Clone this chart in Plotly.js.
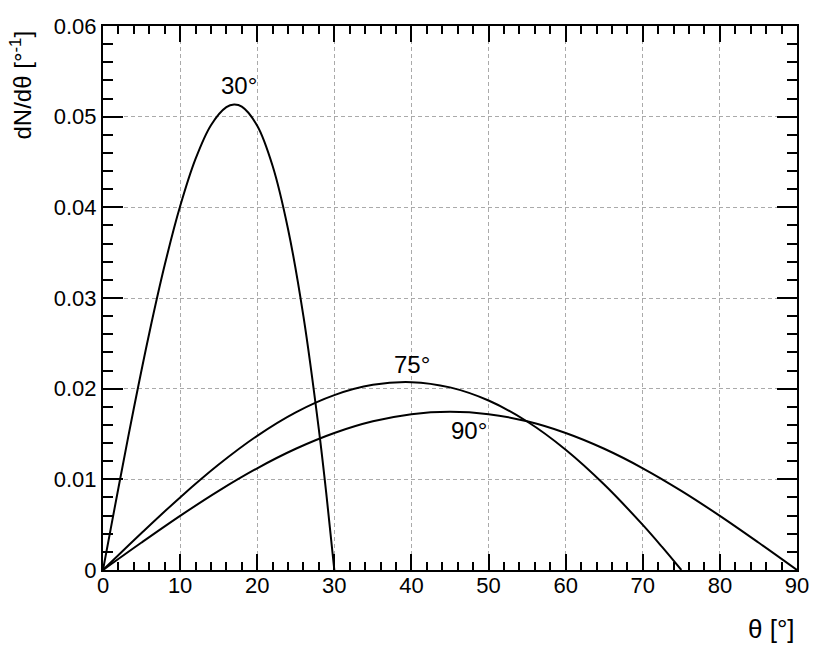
<!DOCTYPE html>
<html>
<head>
<meta charset="utf-8">
<script src="https://cdn.plot.ly/plotly-3.0.1.min.js"></script>
<style>html,body{margin:0;padding:0;background:#fff;}</style>
</head>
<body>
<div id="chart" style="width:830px;height:650px;"></div>
<script>
// Curve for 30°
const theta30 = [0, 1, 2, 4, 6, 8, 10, 12, 14, 16, 17, 18, 20, 22, 24, 26, 28, 29, 30];
const dN30 = [0, 0.00454, 0.00905, 0.01784, 0.02612, 0.03363, 0.04011, 0.04534, 0.04906, 0.05105, 0.05133, 0.05110, 0.04900, 0.04456, 0.03759, 0.02794, 0.01545, 0.00810, 0];
// Curve for 75°
const theta75 = [0, 5, 10, 15, 20, 25, 30, 35, 40, 45, 50, 55, 60, 65, 70, 72.5, 75];
const dN75 = [0, 0.00408, 0.00801, 0.01163, 0.01480, 0.01739, 0.01929, 0.02042, 0.02072, 0.02014, 0.01869, 0.01638, 0.01327, 0.00943, 0.00497, 0.00254, 0];
// Curve for 90°
const theta90 = [0, 5, 10, 15, 20, 25, 30, 35, 40, 45, 50, 55, 60, 65, 70, 75, 80, 85, 90];
const dN90 = [0, 0.00303, 0.00597, 0.00873, 0.01122, 0.01337, 0.01511, 0.01640, 0.01719, 0.01745, 0.01719, 0.01640, 0.01511, 0.01337, 0.01122, 0.00873, 0.00597, 0.00303, 0];
// Curve labels
const labelText = ["30°", "75°", "90°"];
const labelX = [17.6, 40.1, 47.5];
const labelY = [0.0534, 0.0227, 0.01535];

const FONT = "Liberation Sans, Arial, Helvetica, sans-serif";
const lineStyle = {color: "black", width: 2, shape: "spline", smoothing: 1};

const traces = [
  {x: theta30, y: dN30, type: "scatter", mode: "lines", line: lineStyle, hoverinfo: "skip"},
  {x: theta75, y: dN75, type: "scatter", mode: "lines", line: lineStyle, hoverinfo: "skip"},
  {x: theta90, y: dN90, type: "scatter", mode: "lines", line: lineStyle, hoverinfo: "skip"}
];

const annotations = labelText.map((t, i) => ({
  x: labelX[i], y: labelY[i], xref: "x", yref: "y", text: t, showarrow: false,
  font: {family: FONT, size: 24, color: "black"}, xanchor: "center", yanchor: "middle"
}));
annotations.push({
  x: 1, y: 0, xref: "paper", yref: "paper", text: "θ [°]", showarrow: false,
  xanchor: "right", yanchor: "middle", yshift: -59,
  font: {family: FONT, size: 26, color: "black"}
});
annotations.push({
  x: 0, y: 1, xref: "paper", yref: "paper", text: "dN/dθ [°<sup>-1</sup>]", showarrow: false,
  textangle: -90, xanchor: "center", yanchor: "top", xshift: -83, yshift: -3,
  font: {family: FONT, size: 24, color: "black"}
});

const layout = {
  width: 830, height: 650,
  margin: {l: 103, r: 33, t: 26, b: 80},
  paper_bgcolor: "white", plot_bgcolor: "white",
  showlegend: false,
  font: {family: FONT, size: 22, color: "black"},
  xaxis: {
    range: [0, 90], dtick: 10, tick0: 0,
    showline: true, linecolor: "black", linewidth: 2, mirror: "allticks",
    ticks: "inside", ticklen: 16, tickwidth: 2, tickcolor: "black",
    minor: {ticks: "inside", dtick: 2, ticklen: 8, tickwidth: 2, tickcolor: "black", showgrid: false},
    showgrid: true, gridcolor: "#aaaaaa", gridwidth: 1, griddash: "4px,3px",
    zeroline: false, tickfont: {family: FONT, size: 22, color: "black"},
    ticklabelstandoff: -5
  },
  yaxis: {
    range: [0, 0.06], dtick: 0.01, tick0: 0,
    showline: true, linecolor: "black", linewidth: 2, mirror: "allticks",
    ticks: "inside", ticklen: 20, tickwidth: 2, tickcolor: "black",
    minor: {ticks: "inside", dtick: 0.002, ticklen: 10, tickwidth: 2, tickcolor: "black", showgrid: false},
    showgrid: true, gridcolor: "#aaaaaa", gridwidth: 1, griddash: "4px,3px",
    zeroline: false, tickfont: {family: FONT, size: 22, color: "black"},
    ticklabelstandoff: 0
  },
  annotations: annotations
};

Plotly.newPlot("chart", traces, layout, {displayModeBar: false, staticPlot: true});
</script>
</body>
</html>
